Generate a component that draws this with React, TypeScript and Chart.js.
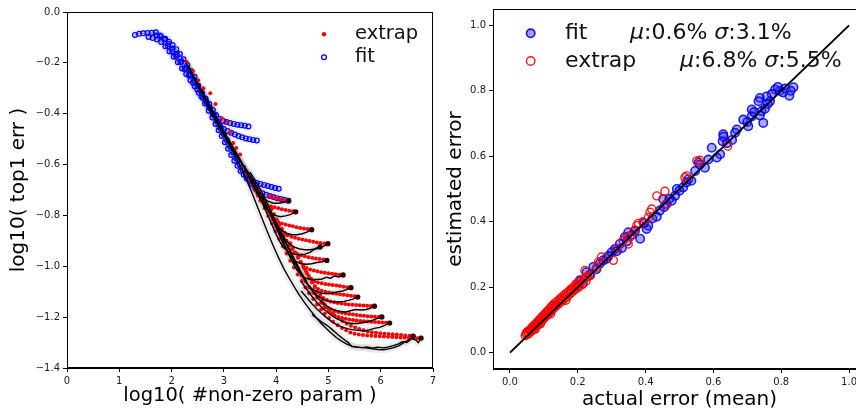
import React, { useEffect, useRef } from 'react';
import { Chart, registerables } from 'chart.js';
Chart.register(...registerables);

type P = [number, number];
const FONT = '"DejaVu Sans", sans-serif';

// ---------------- LEFT PANEL DATA ----------------
const LEFT_X_TICKS = [0, 1, 2, 3, 4, 5, 6, 7];
const LEFT_X_LABELS = ['0', '1', '2', '3', '4', '5', '6', '7'];
const LEFT_Y_TICKS = [-1.4, -1.2, -1.0, -0.8, -0.6, -0.4, -0.2, 0.0];
const LEFT_Y_LABELS = ['−1.4', '−1.2', '−1.0', '−0.8', '−0.6', '−0.4', '−0.2', '0.0'];

// fit (blue) curves
const FIT_1: P[] = [[3.47,-0.450],[3.40,-0.447],[3.33,-0.445],[3.26,-0.443],[3.19,-0.440],[3.12,-0.437],[3.05,-0.433],[2.98,-0.428],[2.91,-0.420],[2.85,-0.405],[2.79,-0.385],[2.72,-0.362],[2.65,-0.340],[2.58,-0.318],[2.50,-0.292],[2.43,-0.270],[2.35,-0.245],[2.27,-0.220],[2.19,-0.195],[2.10,-0.168],[2.02,-0.145],[1.94,-0.126],[1.86,-0.108],[1.78,-0.092],[1.70,-0.080],[1.62,-0.082],[1.54,-0.083],[1.46,-0.084],[1.38,-0.086],[1.30,-0.090]];
const FIT_2: P[] = [[3.63,-0.505],[3.56,-0.503],[3.49,-0.500],[3.42,-0.497],[3.35,-0.493],[3.28,-0.488],[3.21,-0.482],[3.14,-0.475],[3.07,-0.468],[3.00,-0.460],[2.93,-0.447],[2.86,-0.428],[2.79,-0.402],[2.72,-0.375],[2.65,-0.348],[2.58,-0.322],[2.51,-0.290],[2.44,-0.255],[2.37,-0.232],[2.30,-0.208],[2.23,-0.186],[2.16,-0.165],[2.09,-0.146],[2.02,-0.130],[1.95,-0.117],[1.88,-0.105],[1.80,-0.096],[1.72,-0.092]];
const FIT_3: P[] = [[4.05,-0.695],[3.98,-0.692],[3.91,-0.688],[3.84,-0.684],[3.77,-0.680],[3.70,-0.676],[3.63,-0.672],[3.56,-0.668],[3.50,-0.663],[3.44,-0.655],[3.38,-0.640],[3.32,-0.625],[3.26,-0.605],[3.20,-0.585],[3.14,-0.562],[3.08,-0.538],[3.02,-0.512],[2.96,-0.488],[2.90,-0.465],[2.84,-0.440],[2.78,-0.415],[2.71,-0.388],[2.64,-0.360],[2.57,-0.332],[2.49,-0.305],[2.41,-0.278],[2.33,-0.250],[2.25,-0.225],[2.17,-0.198],[2.09,-0.175],[2.01,-0.155],[1.93,-0.135]];
const FIT_4: P[] = [[4.23,-0.742],[4.16,-0.738],[4.09,-0.735],[4.02,-0.732],[3.95,-0.728],[3.88,-0.724],[3.81,-0.719],[3.74,-0.713],[3.67,-0.705],[3.60,-0.693],[3.54,-0.678],[3.48,-0.660],[3.42,-0.640],[3.36,-0.620],[3.30,-0.598],[3.24,-0.575],[3.18,-0.552],[3.12,-0.528],[3.06,-0.504],[3.00,-0.480],[2.94,-0.456],[2.88,-0.432],[2.81,-0.405],[2.74,-0.378],[2.67,-0.355],[2.60,-0.338],[2.52,-0.318],[2.44,-0.292],[2.36,-0.268],[2.28,-0.244],[2.20,-0.222],[2.12,-0.198],[2.04,-0.176],[1.96,-0.155],[1.88,-0.135],[1.80,-0.118],[1.72,-0.108],[1.64,-0.102],[1.56,-0.098]];

// extrap (red) curves
const EX_A0: P[] = [[4.215,-0.742],[4.145,-0.739],[4.075,-0.736],[4.005,-0.733],[3.935,-0.729],[3.865,-0.725]];
const EX_A: P[] = [[4.39,-0.786],[4.32,-0.784],[4.25,-0.782],[4.18,-0.779],[4.11,-0.776],[4.04,-0.772],[3.97,-0.768],[3.90,-0.764],[3.83,-0.759],[3.76,-0.752],[3.70,-0.740],[3.65,-0.722],[3.60,-0.702],[3.55,-0.680],[3.50,-0.658],[3.45,-0.636]];
const EX_B: P[] = [[4.67,-0.855],[4.60,-0.853],[4.53,-0.851],[4.46,-0.849],[4.39,-0.846],[4.32,-0.843],[4.25,-0.840],[4.18,-0.836],[4.11,-0.832],[4.04,-0.826],[3.98,-0.816],[3.93,-0.800],[3.88,-0.782],[3.83,-0.762],[3.78,-0.742],[3.73,-0.722],[3.68,-0.702]];
const EX_C: P[] = [[4.99,-0.911],[4.92,-0.910],[4.85,-0.908],[4.78,-0.906],[4.71,-0.904],[4.64,-0.901],[4.57,-0.898],[4.50,-0.895],[4.43,-0.892],[4.36,-0.888],[4.29,-0.884],[4.22,-0.878],[4.16,-0.868],[4.11,-0.852],[4.06,-0.834],[4.01,-0.815],[3.96,-0.795],[3.91,-0.775]];
const EX_D: P[] = [[4.97,-0.975],[4.90,-0.973],[4.83,-0.971],[4.76,-0.969],[4.69,-0.967],[4.62,-0.964],[4.55,-0.961],[4.48,-0.957],[4.41,-0.952],[4.35,-0.945],[4.30,-0.933],[4.25,-0.918],[4.20,-0.900],[4.15,-0.880],[4.10,-0.860],[4.05,-0.840]];
const EX_E: P[] = [[5.28,-1.035],[5.21,-1.033],[5.14,-1.031],[5.07,-1.029],[5.00,-1.027],[4.93,-1.025],[4.86,-1.023],[4.79,-1.020],[4.72,-1.017],[4.65,-1.013],[4.58,-1.007],[4.52,-0.997],[4.47,-0.983],[4.42,-0.966],[4.37,-0.947],[4.32,-0.928],[4.27,-0.909]];
const EX_F: P[] = [[5.43,-1.084],[5.36,-1.082],[5.29,-1.080],[5.22,-1.078],[5.15,-1.076],[5.08,-1.074],[5.01,-1.072],[4.94,-1.070],[4.87,-1.067],[4.80,-1.064],[4.73,-1.059],[4.67,-1.050],[4.62,-1.037],[4.57,-1.020],[4.52,-1.002],[4.47,-0.983],[4.42,-0.963]];
const EX_G: P[] = [[5.57,-1.120],[5.50,-1.118],[5.43,-1.116],[5.36,-1.114],[5.29,-1.112],[5.22,-1.110],[5.15,-1.108],[5.08,-1.106],[5.01,-1.103],[4.94,-1.100],[4.87,-1.096],[4.80,-1.089],[4.74,-1.078],[4.69,-1.063],[4.64,-1.046],[4.59,-1.028],[4.54,-1.010]];
const EX_H: P[] = [[5.88,-1.157],[5.81,-1.156],[5.74,-1.155],[5.67,-1.154],[5.60,-1.153],[5.53,-1.152],[5.46,-1.151],[5.39,-1.150],[5.32,-1.148],[5.25,-1.146],[5.18,-1.144],[5.11,-1.141],[5.04,-1.138],[4.97,-1.133],[4.90,-1.125],[4.84,-1.113],[4.79,-1.098],[4.74,-1.081],[4.69,-1.063]];
const EX_I: P[] = [[6.03,-1.200],[5.96,-1.199],[5.89,-1.198],[5.82,-1.197],[5.75,-1.196],[5.68,-1.195],[5.61,-1.194],[5.54,-1.192],[5.47,-1.190],[5.40,-1.188],[5.33,-1.186],[5.26,-1.183],[5.19,-1.180],[5.12,-1.176],[5.05,-1.171],[4.99,-1.163],[4.93,-1.151],[4.88,-1.136],[4.83,-1.119],[4.78,-1.101]];
const EX_J: P[] = [[6.17,-1.223],[6.10,-1.222],[6.03,-1.221],[5.96,-1.220],[5.89,-1.219],[5.82,-1.218],[5.75,-1.217],[5.68,-1.216],[5.61,-1.215],[5.54,-1.213],[5.47,-1.211],[5.40,-1.209],[5.33,-1.206],[5.26,-1.203],[5.19,-1.199],[5.12,-1.194],[5.06,-1.186],[5.00,-1.175],[4.95,-1.161],[4.90,-1.145]];
const EX_K: P[] = [[6.63,-1.275],[6.55,-1.273],[6.47,-1.272],[6.39,-1.270],[6.31,-1.268],[6.23,-1.267],[6.15,-1.266],[6.07,-1.265],[5.99,-1.263],[5.91,-1.261],[5.83,-1.259],[5.75,-1.256],[5.67,-1.252],[5.59,-1.247],[5.51,-1.241],[5.43,-1.234],[5.35,-1.225],[5.27,-1.215],[5.19,-1.203],[5.09,-1.190],[5.01,-1.175],[4.93,-1.160],[4.86,-1.143],[4.78,-1.124],[4.71,-1.104],[4.63,-1.083],[4.56,-1.060],[4.49,-1.036],[4.42,-1.011],[4.35,-0.985],[4.28,-0.958],[4.21,-0.930],[4.14,-0.902],[4.07,-0.873],[4.00,-0.844],[3.93,-0.814],[3.86,-0.784],[3.79,-0.754],[3.72,-0.724],[3.65,-0.694]];
const EX_L: P[] = [[6.78,-1.284],[6.70,-1.283],[6.62,-1.282],[6.54,-1.281],[6.46,-1.280],[6.38,-1.280],[6.30,-1.279],[6.22,-1.278],[6.14,-1.277],[6.06,-1.276],[5.98,-1.275],[5.90,-1.274],[5.82,-1.273],[5.74,-1.272],[5.66,-1.270],[5.58,-1.268],[5.50,-1.265],[5.42,-1.260],[5.34,-1.252],[5.26,-1.243],[5.18,-1.232],[5.09,-1.218],[5.01,-1.203],[4.93,-1.187],[4.86,-1.170],[4.78,-1.150],[4.71,-1.129],[4.63,-1.106],[4.56,-1.083],[4.49,-1.058],[4.41,-1.032],[4.34,-1.005],[4.27,-0.978],[4.20,-0.950],[4.13,-0.921],[4.06,-0.892],[3.99,-0.862],[3.92,-0.832],[3.85,-0.802],[3.78,-0.772],[3.71,-0.742],[3.64,-0.712],[3.57,-0.682],[3.51,-0.658],[3.45,-0.635],[3.39,-0.610],[3.31,-0.560],[3.24,-0.535],[3.18,-0.515],[3.12,-0.472],[3.06,-0.432],[2.96,-0.418],[2.84,-0.362],[2.74,-0.320],[2.61,-0.300],[2.51,-0.268],[2.41,-0.232],[2.29,-0.197]];

// measured (black) curves
const ACT_A0: P[] = [[4.24,-0.742],[4.15,-0.748],[4.05,-0.752],[3.95,-0.752],[3.85,-0.745],[3.75,-0.730],[3.66,-0.710],[3.58,-0.685],[3.50,-0.655],[3.40,-0.617],[3.30,-0.582],[3.20,-0.548],[3.10,-0.515],[3.00,-0.480],[2.90,-0.445],[2.80,-0.405],[2.70,-0.365],[2.60,-0.325],[2.50,-0.287],[2.40,-0.250],[2.30,-0.210]];
const ACT_A: P[] = [[4.37,-0.786],[4.28,-0.796],[4.18,-0.802],[4.08,-0.805],[3.98,-0.800],[3.88,-0.788],[3.80,-0.770],[3.72,-0.745],[3.64,-0.715],[3.56,-0.683],[3.48,-0.650],[3.40,-0.615],[3.30,-0.575],[3.20,-0.540],[3.10,-0.505],[3.00,-0.470],[2.90,-0.432],[2.80,-0.395],[2.70,-0.357],[2.60,-0.318],[2.50,-0.280],[2.40,-0.243],[2.32,-0.212]];
const ACT_B: P[] = [[4.68,-0.856],[4.60,-0.865],[4.50,-0.872],[4.40,-0.876],[4.30,-0.876],[4.20,-0.870],[4.10,-0.858],[4.02,-0.840],[3.94,-0.815],[3.86,-0.785],[3.78,-0.752],[3.70,-0.718],[3.62,-0.685],[3.54,-0.655],[3.46,-0.628],[3.36,-0.598],[3.26,-0.568],[3.16,-0.538],[3.06,-0.505],[2.96,-0.470],[2.86,-0.432]];
const ACT_C1: P[] = [[4.99,-0.911],[4.92,-0.920],[4.84,-0.928],[4.75,-0.932],[4.65,-0.935],[4.55,-0.935],[4.45,-0.932],[4.35,-0.925],[4.25,-0.912],[4.17,-0.892],[4.09,-0.865],[4.01,-0.833],[3.93,-0.798],[3.85,-0.762],[3.77,-0.727],[3.69,-0.694],[3.60,-0.662],[3.50,-0.630]];
const ACT_C2: P[] = [[4.84,-0.924],[4.75,-0.930],[4.65,-0.945],[4.55,-0.952],[4.45,-0.955],[4.35,-0.953],[4.25,-0.945],[4.15,-0.928],[4.06,-0.900],[3.98,-0.866],[3.90,-0.828],[3.82,-0.790],[3.74,-0.752],[3.66,-0.717],[3.58,-0.684],[3.50,-0.652]];
const ACT_D: P[] = [[4.97,-0.977],[4.88,-0.982],[4.78,-0.985],[4.68,-0.990],[4.58,-0.992],[4.48,-0.990],[4.38,-0.982],[4.29,-0.965],[4.21,-0.940],[4.13,-0.908],[4.05,-0.870],[3.97,-0.832],[3.89,-0.795],[3.81,-0.760],[3.72,-0.725]];
const ACT_E: P[] = [[5.28,-1.034],[5.20,-1.042],[5.12,-1.038],[5.04,-1.047],[4.96,-1.043],[4.88,-1.050],[4.78,-1.052],[4.68,-1.052],[4.58,-1.048],[4.48,-1.035],[4.39,-1.012],[4.31,-0.982],[4.23,-0.948],[4.15,-0.912],[4.07,-0.875],[3.99,-0.838],[3.90,-0.800]];
const ACT_F: P[] = [[5.43,-1.084],[5.35,-1.092],[5.27,-1.097],[5.18,-1.100],[5.08,-1.105],[4.98,-1.108],[4.88,-1.106],[4.78,-1.100],[4.68,-1.088],[4.59,-1.068],[4.51,-1.040],[4.43,-1.008],[4.35,-0.975],[4.27,-0.940],[4.18,-0.905],[4.08,-0.868],[3.98,-0.830]];
const ACT_G: P[] = [[5.56,-1.121],[5.48,-1.128],[5.40,-1.133],[5.30,-1.138],[5.20,-1.140],[5.10,-1.140],[5.00,-1.137],[4.90,-1.130],[4.80,-1.118],[4.71,-1.100],[4.62,-1.075],[4.54,-1.047],[4.46,-1.017],[4.38,-0.985],[4.29,-0.950],[4.20,-0.915],[4.10,-0.878],[4.00,-0.840]];
const ACT_H: P[] = [[5.88,-1.157],[5.80,-1.165],[5.72,-1.170],[5.62,-1.172],[5.52,-1.170],[5.42,-1.175],[5.32,-1.180],[5.22,-1.178],[5.12,-1.172],[5.02,-1.163],[4.92,-1.150],[4.83,-1.132],[4.74,-1.110],[4.65,-1.085],[4.56,-1.058],[4.47,-1.028],[4.38,-0.996],[4.29,-0.962]];
const ACT_I: P[] = [[6.02,-1.199],[5.94,-1.205],[5.85,-1.212],[5.75,-1.218],[5.65,-1.222],[5.55,-1.225],[5.45,-1.225],[5.35,-1.222],[5.25,-1.215],[5.15,-1.205],[5.05,-1.192],[4.95,-1.176],[4.85,-1.157],[4.75,-1.135],[4.66,-1.112],[4.57,-1.087],[4.48,-1.060]];
const ACT_J: P[] = [[6.17,-1.223],[6.08,-1.232],[5.98,-1.240],[5.88,-1.244],[5.78,-1.250],[5.68,-1.255],[5.58,-1.252],[5.48,-1.250],[5.38,-1.246],[5.28,-1.240],[5.18,-1.232],[5.08,-1.220],[4.98,-1.205],[4.88,-1.188],[4.78,-1.168],[4.68,-1.146],[4.58,-1.122],[4.48,-1.097]];
const ACT_K: P[] = [[6.62,-1.275],[6.56,-1.290],[6.50,-1.300],[6.42,-1.296],[6.34,-1.305],[6.24,-1.312],[6.14,-1.318],[6.04,-1.321],[5.94,-1.318],[5.84,-1.322],[5.74,-1.317],[5.64,-1.320],[5.54,-1.318],[5.45,-1.316],[5.38,-1.300],[5.28,-1.285],[5.18,-1.268],[5.08,-1.250],[4.98,-1.233],[4.88,-1.220],[4.78,-1.205],[4.69,-1.190]];
const ACT_L: P[] = [[6.77,-1.282],[6.72,-1.300],[6.67,-1.290],[6.60,-1.283],[6.52,-1.290],[6.44,-1.300],[6.35,-1.312],[6.25,-1.320],[6.15,-1.325],[6.05,-1.328],[5.95,-1.327],[5.85,-1.325],[5.75,-1.322],[5.65,-1.320],[5.55,-1.318],[5.45,-1.314],[5.35,-1.306],[5.25,-1.294],[5.15,-1.280],[5.05,-1.262],[4.95,-1.243],[4.85,-1.222],[4.75,-1.198],[4.65,-1.172],[4.55,-1.145],[4.45,-1.115],[4.35,-1.082],[4.25,-1.047],[4.15,-1.010],[4.05,-0.968],[3.95,-0.922],[3.85,-0.873],[3.75,-0.822],[3.65,-0.770],[3.55,-0.718],[3.45,-0.668],[3.35,-0.620],[3.25,-0.578],[3.15,-0.540],[3.05,-0.502],[2.95,-0.465],[2.85,-0.428],[2.75,-0.390],[2.65,-0.350],[2.55,-0.310],[2.45,-0.268],[2.35,-0.228],[2.28,-0.200]];

const FIT_CURVES = [FIT_1, FIT_2, FIT_3, FIT_4];
const EXTRAP_CURVES = [EX_A0, EX_A, EX_B, EX_C, EX_D, EX_E, EX_F, EX_G, EX_H, EX_I, EX_J, EX_K, EX_L];
const ACTUAL_CURVES = [ACT_A0, ACT_A, ACT_B, ACT_C1, ACT_C2, ACT_D, ACT_E, ACT_F, ACT_G, ACT_H, ACT_I, ACT_J, ACT_K, ACT_L];

// ---------------- RIGHT PANEL DATA ----------------
const RIGHT_TICKS = [0, 0.2, 0.4, 0.6, 0.8, 1.0];
const RIGHT_LABELS = ['0.0', '0.2', '0.4', '0.6', '0.8', '1.0'];
const DIAG: P[] = [[0, 0], [1, 1]];
const FIT_MU = '0.6%';
const FIT_SIGMA = '3.1%';
const EXTRAP_MU = '6.8%';
const EXTRAP_SIGMA = '5.5%';

const RIGHT_FIT: P[] = [[0.836,0.811],[0.824,0.785],[0.811,0.807],[0.796,0.800],[0.782,0.804],[0.772,0.790],[0.767,0.768],[0.757,0.783],[0.737,0.778],[0.733,0.768],[0.742,0.738],[0.737,0.725],[0.747,0.702],[0.713,0.743],[0.713,0.722],[0.703,0.692],[0.688,0.712],[0.669,0.682],[0.664,0.672],[0.629,0.667],[0.627,0.646],[0.620,0.606],[0.610,0.596],[0.595,0.626],[0.575,0.565],[0.556,0.581],[0.546,0.555],[0.526,0.530],[0.511,0.505],[0.492,0.500],[0.487,0.479],[0.477,0.464],[0.462,0.454],[0.452,0.469],[0.442,0.434],[0.433,0.415],[0.408,0.388],[0.403,0.378],[0.384,0.348],[0.369,0.373],[0.349,0.368],[0.339,0.353],[0.324,0.332],[0.310,0.317],[0.300,0.307],[0.285,0.287],[0.265,0.272],[0.246,0.262],[0.226,0.246],[0.206,0.221],[0.202,0.206],[0.828,0.800],[0.805,0.795],[0.790,0.812],[0.760,0.760],[0.752,0.745],[0.720,0.735],[0.700,0.705],[0.655,0.650],[0.640,0.640],[0.630,0.660],[0.585,0.590],[0.560,0.575],[0.535,0.525],[0.520,0.520],[0.500,0.495],[0.470,0.470],[0.455,0.445],[0.420,0.410],[0.395,0.395],[0.360,0.360],[0.345,0.340],[0.330,0.320],[0.315,0.310],[0.290,0.295],[0.275,0.282],[0.255,0.255],[0.235,0.238],[0.215,0.212]];

const RIGHT_EXTRAP: P[] = [[0.642,0.631],[0.560,0.588],[0.551,0.586],[0.521,0.540],[0.516,0.535],[0.457,0.493],[0.460,0.452],[0.433,0.479],[0.418,0.439],[0.413,0.429],[0.408,0.413],[0.379,0.395],[0.374,0.388],[0.354,0.353],[0.349,0.332],[0.334,0.343],[0.315,0.317],[0.305,0.282],[0.270,0.292],[0.261,0.277],[0.256,0.261],[0.221,0.251],[0.226,0.231],[0.206,0.216],[0.197,0.201],[0.345,0.355],[0.365,0.370],[0.392,0.400],
[0.045,0.052],[0.048,0.060],[0.050,0.055],[0.052,0.064],[0.055,0.058],[0.057,0.068],[0.060,0.063],[0.062,0.072],[0.064,0.066],[0.066,0.078],[0.068,0.070],[0.070,0.082],[0.072,0.075],[0.074,0.086],[0.076,0.079],[0.078,0.090],[0.080,0.083],[0.082,0.095],[0.084,0.087],[0.086,0.099],[0.088,0.091],[0.090,0.104],[0.092,0.096],[0.094,0.108],[0.096,0.100],[0.098,0.113],[0.100,0.105],[0.102,0.117],[0.104,0.109],[0.106,0.122],[0.108,0.113],[0.110,0.126],[0.112,0.118],[0.114,0.130],[0.116,0.122],[0.118,0.135],[0.120,0.126],[0.122,0.140],[0.124,0.131],[0.126,0.144],[0.128,0.135],[0.130,0.149],[0.133,0.140],[0.136,0.154],[0.139,0.145],[0.142,0.159],[0.145,0.150],[0.148,0.165],[0.151,0.156],[0.154,0.170],[0.157,0.161],[0.160,0.176],[0.163,0.167],[0.166,0.181],[0.169,0.172],[0.172,0.186],[0.175,0.178],[0.178,0.192],[0.181,0.183],[0.184,0.197],[0.187,0.189],[0.190,0.203],[0.194,0.195],[0.198,0.209],[0.203,0.200],[0.208,0.218],[0.213,0.208],[0.218,0.226],[0.224,0.218],[0.230,0.232],[0.238,0.236],[0.060,0.070],[0.075,0.072],[0.090,0.088],[0.105,0.115],[0.120,0.118],[0.135,0.145],[0.150,0.162],[0.165,0.160],[0.180,0.190],[0.195,0.210]];

// ---------------- helpers ----------------
const toXY = (arr: P[]) => arr.map(([x, y]) => ({ x, y }));

function makeScale(pos: string, min: number, max: number, ticks: number[], labels: string[], title: string, titleSize: number, titlePad: any, fitSize: number) {
  return {
    type: 'linear',
    position: pos,
    min,
    max,
    afterBuildTicks: (s: any) => { s.ticks = ticks.map((v) => ({ value: v })); },
    afterFit: (s: any) => { if (pos === 'left') s.width = fitSize; else s.height = fitSize; },
    ticks: {
      callback: (_v: any, i: number) => labels[i],
      font: { family: FONT, size: 10 },
      color: '#1a1a1a',
      padding: 3,
      autoSkip: false,
      maxRotation: 0,
      minRotation: 0,
    },
    grid: { display: true, drawOnChartArea: false, drawTicks: true, tickLength: 4, color: '#000', lineWidth: 1 },
    border: { display: true, color: '#000', width: 1 },
    title: { display: true, text: title, color: '#000', font: { family: FONT, size: titleSize, lineHeight: 1 }, padding: titlePad },
  };
}

const framePlugin = {
  id: 'frame',
  afterDatasetsDraw(chart: any) {
    const { ctx, chartArea: a } = chart;
    ctx.save();
    ctx.strokeStyle = '#000';
    ctx.lineWidth = 1;
    ctx.strokeRect(Math.round(a.left) + 0.5, Math.round(a.top) + 0.5, Math.round(a.right - a.left) - 1, Math.round(a.bottom - a.top) - 1);
    ctx.restore();
  },
};

const leftLegend = {
  id: 'leftLegend',
  afterDraw(chart: any) {
    const ctx = chart.ctx;
    ctx.save();
    ctx.beginPath();
    ctx.arc(324, 34.3, 2.2, 0, Math.PI * 2);
    ctx.fillStyle = '#ff0000';
    ctx.fill();
    ctx.beginPath();
    ctx.arc(324, 57.3, 2.4, 0, Math.PI * 2);
    ctx.strokeStyle = '#0000ff';
    ctx.lineWidth = 1.3;
    ctx.stroke();
    ctx.fillStyle = '#111';
    ctx.font = `19.5px ${FONT}`;
    ctx.textBaseline = 'middle';
    ctx.textAlign = 'left';
    ctx.fillText('extrap', 355, 34);
    ctx.fillText('fit', 355, 57);
    ctx.restore();
  },
};

function drawRich(ctx: any, parts: [string, boolean][], x: number, y: number, size: number) {
  let cx = x;
  for (const [t, it] of parts) {
    ctx.font = `${it ? 'italic ' : ''}${size}px ${FONT}`;
    ctx.fillText(t, cx, y);
    cx += ctx.measureText(t).width;
  }
}

const rightLegend = {
  id: 'rightLegend',
  afterDraw(chart: any) {
    const ctx = chart.ctx;
    ctx.save();
    ctx.beginPath();
    ctx.arc(90.7, 33.3, 4.2, 0, Math.PI * 2);
    ctx.fillStyle = 'rgba(40,40,255,0.45)';
    ctx.fill();
    ctx.strokeStyle = 'rgba(0,0,230,0.9)';
    ctx.lineWidth = 1.6;
    ctx.stroke();
    ctx.beginPath();
    ctx.arc(90.7, 61, 4.2, 0, Math.PI * 2);
    ctx.strokeStyle = 'rgba(255,0,0,0.9)';
    ctx.lineWidth = 1.4;
    ctx.stroke();
    ctx.fillStyle = '#111';
    ctx.textBaseline = 'middle';
    ctx.textAlign = 'left';
    const size = 22;
    ctx.font = `${size}px ${FONT}`;
    ctx.fillText('fit', 125, 33);
    ctx.fillText('extrap', 125, 61);
    drawRich(ctx, [['μ', true], [':' + FIT_MU + ' ', false], ['σ', true], [':' + FIT_SIGMA, false]], 190, 33, size);
    drawRich(ctx, [['μ', true], [':' + EXTRAP_MU + ' ', false], ['σ', true], [':' + EXTRAP_SIGMA, false]], 240, 61, size);
    ctx.restore();
  },
};

const baseOptions = {
  animation: false,
  responsive: false,
  maintainAspectRatio: false,
  events: [],
  plugins: { legend: { display: false }, tooltip: { enabled: false } },
  elements: { line: { tension: 0 } },
};

export default function App() {
  const leftRef = useRef<HTMLCanvasElement>(null);
  const rightRef = useRef<HTMLCanvasElement>(null);

  useEffect(() => {
    const datasets: any[] = [];
    ACTUAL_CURVES.forEach((c) => datasets.push({
      data: toXY(c), showLine: true, borderColor: 'rgba(0,0,0,0.07)', borderWidth: 7,
      pointRadius: 0, borderCapStyle: 'round', borderJoinStyle: 'round', order: 7,
    }));
    FIT_CURVES.forEach((c) => datasets.push({
      data: toXY(c), showLine: true, borderColor: 'rgba(0,0,255,0.06)', borderWidth: 10,
      pointRadius: 0, borderCapStyle: 'round', borderJoinStyle: 'round', order: 7,
    }));
    FIT_CURVES.forEach((c) => datasets.push({
      label: 'fit', data: toXY(c), showLine: true, borderColor: 'rgba(0,0,255,0.55)', borderWidth: 0.9,
      pointRadius: 2.4, pointBorderWidth: 1.2, pointBorderColor: '#0000ff', pointBackgroundColor: 'rgba(0,0,255,0.1)', order: 5,
    }));
    datasets.push({
      label: 'extrap', data: toXY(EXTRAP_CURVES.flat() as P[]), showLine: false,
      pointRadius: 2, pointBorderWidth: 0, pointBackgroundColor: '#ff0000', order: 4,
    });
    ACTUAL_CURVES.forEach((c) => datasets.push({
      data: toXY(c), showLine: true, borderColor: '#000', borderWidth: 1.4, pointRadius: 0, order: 3,
    }));
    datasets.push({
      data: toXY(ACTUAL_CURVES.map((c) => c[0])), showLine: false,
      pointRadius: 2.6, pointBorderWidth: 0, pointBackgroundColor: '#2a0000', order: 2,
    });

    const chart = new Chart(leftRef.current as HTMLCanvasElement, {
      type: 'scatter',
      data: { datasets },
      options: {
        ...baseOptions,
        layout: { padding: { top: 12, right: 7, left: 0, bottom: 0 } },
        scales: {
          x: makeScale('bottom', 0, 7, LEFT_X_TICKS, LEFT_X_LABELS, 'log10( #non-zero param )', 19.5, { top: 0, bottom: 5 }, 43),
          y: makeScale('left', -1.4, 0, LEFT_Y_TICKS, LEFT_Y_LABELS, 'log10( top1 err )', 20, { top: 8.3, bottom: 0 }, 67),
        },
      } as any,
      plugins: [framePlugin, leftLegend],
    });
    return () => chart.destroy();
  }, []);

  useEffect(() => {
    const datasets: any[] = [
      {
        data: toXY(DIAG), showLine: true, borderColor: '#000', borderWidth: 2, pointRadius: 0, order: 1,
      },
      {
        label: 'extrap', data: toXY(RIGHT_EXTRAP), showLine: false,
        pointRadius: 4, pointBorderWidth: 1.4, pointBorderColor: 'rgba(255,0,0,0.9)', pointBackgroundColor: 'rgba(0,0,0,0)', order: 2,
      },
      {
        label: 'fit', data: toXY(RIGHT_FIT), showLine: false,
        pointRadius: 4.2, pointBorderWidth: 1.6, pointBorderColor: 'rgba(0,0,230,0.85)', pointBackgroundColor: 'rgba(40,40,255,0.4)', order: 3,
      },
    ];
    const chart = new Chart(rightRef.current as HTMLCanvasElement, {
      type: 'scatter',
      data: { datasets },
      options: {
        ...baseOptions,
        layout: { padding: { top: 7, right: 14, left: 0, bottom: 0 } },
        scales: {
          x: makeScale('bottom', -0.05, 1.05, RIGHT_TICKS, RIGHT_LABELS, 'actual error (mean)', 20, { top: 0, bottom: 1 }, 42),
          y: makeScale('left', -0.05, 1.05, RIGHT_TICKS, RIGHT_LABELS, 'estimated error', 20, { top: 5.5, bottom: 0 }, 53),
        },
      } as any,
      plugins: [framePlugin, rightLegend],
    });
    return () => chart.destroy();
  }, []);

  return (
    <div style={{ position: 'absolute', left: 0, top: 0, width: 856, height: 411, overflow: 'hidden', background: '#fff' }}>
      <canvas ref={leftRef} width={440} height={411} style={{ position: 'absolute', left: 0, top: 0, width: 440, height: 411, display: 'block' }} />
      <canvas ref={rightRef} width={440} height={411} style={{ position: 'absolute', left: 440, top: 0, width: 440, height: 411, display: 'block' }} />
    </div>
  );
}
